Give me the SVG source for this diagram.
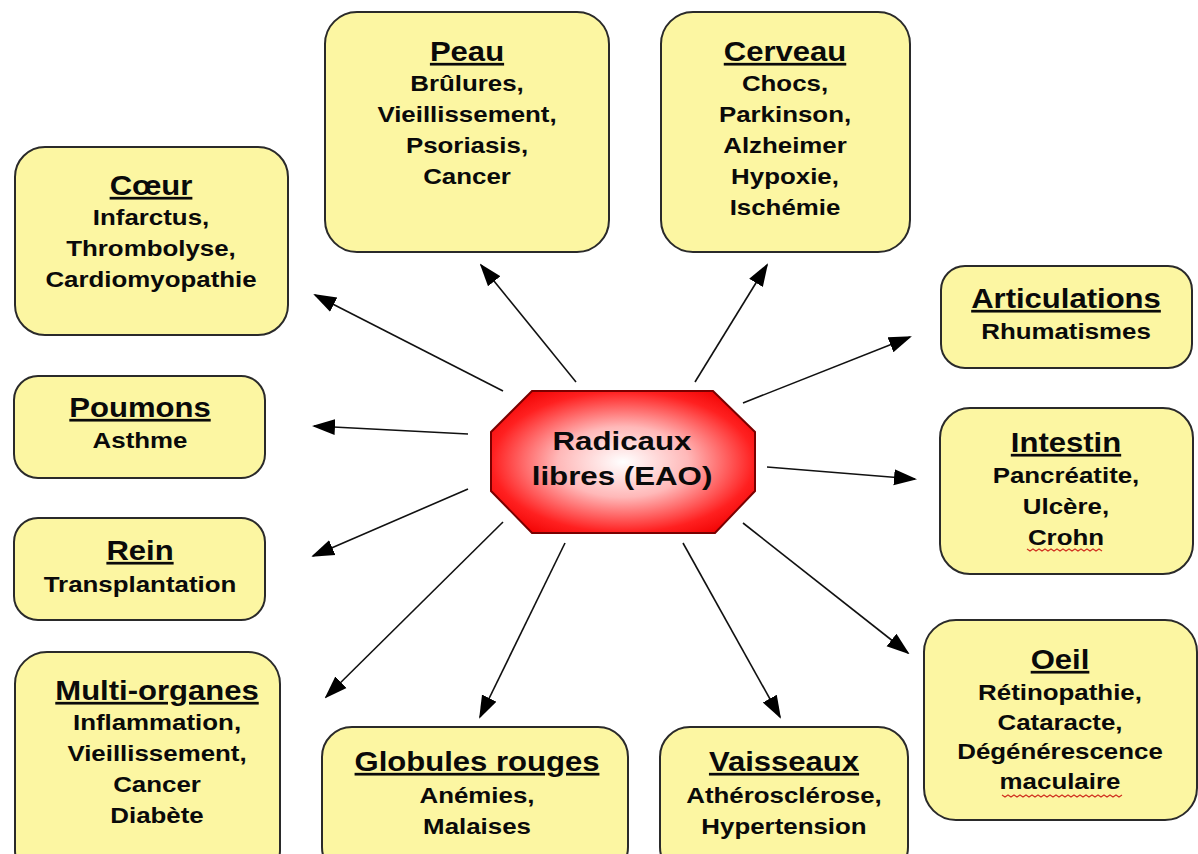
<svg xmlns="http://www.w3.org/2000/svg" width="1198" height="854" viewBox="0 0 1198 854">
<defs>
<style>
.box{fill:#FCF6A2;stroke:#2a2a2a;stroke-width:2}
.t{font-family:"Liberation Sans",Arial,sans-serif;font-weight:bold;fill:#0a0a0a;text-anchor:middle}
.h{font-size:27px;text-decoration:underline}
.b{font-size:22.5px}
.c{font-size:26.5px}
.arr{stroke:#111;stroke-width:1.6;fill:none;marker-end:url(#ah)}
.sq{fill:none;stroke:#d03020;stroke-width:1.2}
</style>
<marker id="ah" viewBox="0 0 23 18" refX="21" refY="9" markerWidth="23" markerHeight="18" markerUnits="userSpaceOnUse" orient="auto">
<path d="M0,1 L23,9 L0,17 Z" fill="#000"/>
</marker>
<radialGradient id="rg" cx="50%" cy="50%" r="62%">
<stop offset="0" stop-color="#ffffff"/>
<stop offset="0.4" stop-color="#ffb8b8"/>
<stop offset="0.8" stop-color="#ff2020"/>
<stop offset="1" stop-color="#f00000"/>
</radialGradient>
</defs>
<rect width="1198" height="854" fill="#fff"/>

<g id="connectors">
<line class="arr" x1="503" y1="391" x2="315" y2="295"/>
<line class="arr" x1="576" y1="382" x2="481" y2="265"/>
<line class="arr" x1="695" y1="382" x2="767" y2="265"/>
<line class="arr" x1="743" y1="403" x2="910" y2="337"/>
<line class="arr" x1="468" y1="434" x2="314" y2="426"/>
<line class="arr" x1="767" y1="467" x2="915" y2="479"/>
<line class="arr" x1="468" y1="489" x2="313" y2="556"/>
<line class="arr" x1="743" y1="523" x2="908" y2="653"/>
<line class="arr" x1="503" y1="522" x2="326" y2="697"/>
<line class="arr" x1="565" y1="543" x2="480" y2="717"/>
<line class="arr" x1="683" y1="543" x2="780" y2="717"/>
</g>

<g id="center">
<polygon points="532,391 713,391 755,432 755,491 715,533 532,533 491,491 491,432" fill="url(#rg)" stroke="#7a0000" stroke-width="2"/>
<g transform="translate(622 0) scale(1.18 1)">
<text class="t c" x="0" y="450">Radicaux</text>
<text class="t c" x="0" y="485">libres (EAO)</text>
</g>
</g>

<g id="coeur">
<rect class="box" x="15" y="147" width="273" height="188" rx="30"/>
<g transform="translate(151 0) scale(1.15 1)">
<text class="t h" x="0" y="195">Cœur</text>
<text class="t b" x="0" y="225">Infarctus,</text>
<text class="t b" x="0" y="256">Thrombolyse,</text>
<text class="t b" x="0" y="287">Cardiomyopathie</text>
</g>
</g>

<g id="peau">
<rect class="box" x="325" y="12" width="284" height="240" rx="32"/>
<g transform="translate(467 0) scale(1.15 1)">
<text class="t h" x="0" y="61">Peau</text>
<text class="t b" x="0" y="91">Brûlures,</text>
<text class="t b" x="0" y="122">Vieillissement,</text>
<text class="t b" x="0" y="153">Psoriasis,</text>
<text class="t b" x="0" y="184">Cancer</text>
</g>
</g>

<g id="cerveau">
<rect class="box" x="661" y="12" width="249" height="240" rx="32"/>
<g transform="translate(785 0) scale(1.15 1)">
<text class="t h" x="0" y="61">Cerveau</text>
<text class="t b" x="0" y="91">Chocs,</text>
<text class="t b" x="0" y="122">Parkinson,</text>
<text class="t b" x="0" y="153">Alzheimer</text>
<text class="t b" x="0" y="184">Hypoxie,</text>
<text class="t b" x="0" y="215">Ischémie</text>
</g>
</g>

<g id="articulations">
<rect class="box" x="941" y="266" width="251" height="102" rx="24"/>
<g transform="translate(1066 0) scale(1.15 1)">
<text class="t h" x="0" y="308">Articulations</text>
<text class="t b" x="0" y="339">Rhumatismes</text>
</g>
</g>

<g id="poumons">
<rect class="box" x="14" y="376" width="251" height="102" rx="24"/>
<g transform="translate(140 0) scale(1.15 1)">
<text class="t h" x="0" y="417">Poumons</text>
<text class="t b" x="0" y="448">Asthme</text>
</g>
</g>

<g id="intestin">
<rect class="box" x="940" y="408" width="253" height="166" rx="30"/>
<g transform="translate(1066 0) scale(1.15 1)">
<text class="t h" x="0" y="452">Intestin</text>
<text class="t b" x="0" y="483">Pancréatite,</text>
<text class="t b" x="0" y="514">Ulcère,</text>
<text class="t b" x="0" y="545">Crohn</text>
</g>
<path class="sq" d="M1027,549 l3,2 l3,-2 l3,2 l3,-2 l3,2 l3,-2 l3,2 l3,-2 l3,2 l3,-2 l3,2 l3,-2 l3,2 l3,-2 l3,2 l3,-2 l3,2 l3,-2 l3,2 l3,-2 l3,2 l3,-2 l3,2 l3,-2 l3,2"/>
</g>

<g id="rein">
<rect class="box" x="14" y="518" width="251" height="102" rx="24"/>
<g transform="translate(140 0) scale(1.15 1)">
<text class="t h" x="0" y="560">Rein</text>
<text class="t b" x="0" y="592">Transplantation</text>
</g>
</g>

<g id="oeil">
<rect class="box" x="924" y="620" width="273" height="200" rx="32"/>
<g transform="translate(1060 0) scale(1.15 1)">
<text class="t h" x="0" y="669">Oeil</text>
<text class="t b" x="0" y="700">Rétinopathie,</text>
<text class="t b" x="0" y="730">Cataracte,</text>
<text class="t b" x="0" y="759">Dégénérescence</text>
<text class="t b" x="0" y="789">maculaire</text>
</g>
<path class="sq" d="M1002,795 l3,2 l3,-2 l3,2 l3,-2 l3,2 l3,-2 l3,2 l3,-2 l3,2 l3,-2 l3,2 l3,-2 l3,2 l3,-2 l3,2 l3,-2 l3,2 l3,-2 l3,2 l3,-2 l3,2 l3,-2 l3,2 l3,-2 l3,2 l3,-2 l3,2 l3,-2 l3,2 l3,-2 l3,2 l3,-2 l3,2 l3,-2 l3,2 l3,-2 l3,2 l3,-2 l3,2 l3,-2"/>
</g>

<g id="multi-organes">
<rect class="box" x="15" y="652" width="265" height="230" rx="32"/>
<g transform="translate(157 0) scale(1.15 1)">
<text class="t h" x="0" y="700">Multi-organes</text>
<text class="t b" x="0" y="730">Inflammation,</text>
<text class="t b" x="0" y="761">Vieillissement,</text>
<text class="t b" x="0" y="792">Cancer</text>
<text class="t b" x="0" y="823">Diabète</text>
</g>
</g>

<g id="globules">
<rect class="box" x="322" y="727" width="306" height="150" rx="30"/>
<g transform="translate(477 0) scale(1.15 1)">
<text class="t h" x="0" y="771">Globules rouges</text>
<text class="t b" x="0" y="803">Anémies,</text>
<text class="t b" x="0" y="834">Malaises</text>
</g>
</g>

<g id="vaisseaux">
<rect class="box" x="660" y="727" width="248" height="150" rx="30"/>
<g transform="translate(784 0) scale(1.15 1)">
<text class="t h" x="0" y="771">Vaisseaux</text>
<text class="t b" x="0" y="803">Athérosclérose,</text>
<text class="t b" x="0" y="834">Hypertension</text>
</g>
</g>
</svg>
